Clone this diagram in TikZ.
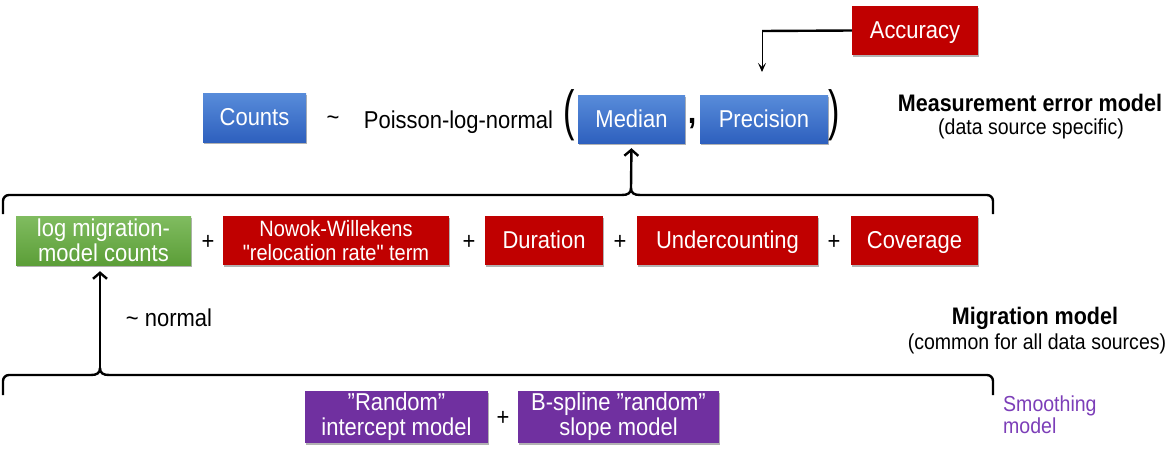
\documentclass[tikz,border=0pt]{standalone}
\usepackage{fontspec}
\setmainfont{Liberation Sans}[Ligatures=TeXOff, FakeStretch=0.9]
\usetikzlibrary{shadows,arrows.meta}
\definecolor{boxred}{RGB}{192,0,0}
\definecolor{boxpurple}{RGB}{112,48,160}
\definecolor{smpurple}{RGB}{124,62,184}
\definecolor{bluetop}{RGB}{88,140,218}
\definecolor{bluebot}{RGB}{46,96,190}
\definecolor{greentop}{RGB}{128,188,96}
\definecolor{greenbot}{RGB}{92,158,56}
\begin{document}
\begin{tikzpicture}[x=1pt,y=-1pt,
  box/.style={draw=none, text=white, align=center, inner sep=0pt,
    font=\fontsize{24.4}{25}\selectfont,
    drop shadow={shadow xshift=1pt,shadow yshift=-2pt,opacity=0.3,fill=black}},
  oneline/.style={text height=20pt, text depth=4pt},
  bluebox/.style={box, oneline, top color=bluetop, bottom color=bluebot},
  greenbox/.style={box, top color=greentop, bottom color=greenbot},
  redbox/.style={box, fill=boxred},
  purplebox/.style={box, fill=boxpurple},
  txt/.style={inner sep=0pt, font=\fontsize{24.4}{26}\selectfont},
  note/.style={inner sep=0pt, font=\fontsize{21.7}{24}\selectfont},
  headtxt/.style={inner sep=0pt, font=\fontsize{23.9}{26}\selectfont\bfseries},
  bracepath/.style={line width=2.4pt, line join=round},
  bigarrow/.style={line width=2.4pt, -{Straight Barb[length=6pt,width=14pt]}},
  thinarrow/.style={line width=1pt, -{Stealth[length=9pt,width=8pt,inset=4pt]}}
]
\useasboundingbox (0,0) rectangle (1170,450);

% top row
\node[redbox, oneline, minimum width=126pt, minimum height=49pt] (acc) at (915,30.5) {Accuracy};
\node[bluebox, minimum width=103pt, minimum height=49pt] (counts) at (254.5,117.5) {Counts};
\node[txt] (tilde) at (333,121) {\char126};
\node[txt] (pln) at (458.5,122) {Poisson-log-normal};
\node[inner sep=0pt, font=\fontsize{38}{38}\selectfont] (lpar) at (569,115) {\scalebox{1}[1.45]{(}};
\node[bluebox, minimum width=107pt, minimum height=48pt] (median) at (631.5,119) {Median};
\node[inner sep=0pt, font=\fontsize{34}{34}\selectfont\bfseries] (comma) at (692,124) {,};
\node[bluebox, minimum width=128pt, minimum height=48pt] (prec) at (764,119) {Precision};
\node[inner sep=0pt, font=\fontsize{38}{38}\selectfont] (rpar) at (834,115) {\scalebox{1}[1.45]{)}};

\node[headtxt] (meh) at (1030,103) {Measurement error model};
\node[note] (mes) at (1031,129) {(data source specific)};

% accuracy connector
\coordinate (accbend) at (762,31);
\coordinate (acctip) at (762,72);
\draw[line width=2.4pt] (acc.west) -- (accbend);
\draw[thinarrow] (accbend) -- (acctip);

% top brace
\coordinate (ttip) at (631,188);
\draw[bracepath, rounded corners=6pt] (3,214) -- (3,195) -- (622,195);
\draw[bracepath] (622,195) .. controls (628,195) and (631,193) .. (ttip)
  .. controls (631,193) and (634,195) .. (640,195);
\draw[bracepath, rounded corners=6pt] (640,195) -- (993,195) -- (993,214);
\draw[bigarrow, shorten >=5pt] (ttip) -- (median.south);

% second row
\node[greenbox, minimum width=175pt, minimum height=49pt] (green) at (103.5,240.5) {log migration-\\model counts};
\node[txt] (p1) at (208,242) {+};
\node[redbox, minimum width=226pt, minimum height=49pt, font=\fontsize{22.2}{23.5}\selectfont] (nowok) at (336,240.5) {Nowok-Willekens\\"relocation rate" term};
\node[txt] (p2) at (469,242) {+};
\node[redbox, oneline, minimum width=118pt, minimum height=49pt] (dur) at (544,240.5) {Duration};
\node[txt] (p3) at (620,242) {+};
\node[redbox, oneline, minimum width=181pt, minimum height=49pt] (under) at (727.5,240.5) {Undercounting};
\node[txt] (p4) at (834,242) {+};
\node[redbox, oneline, minimum width=127pt, minimum height=49pt] (cov) at (914.5,240.5) {Coverage};

\node[txt] (normal) at (169,318) {\char126\ normal};
\node[headtxt] (mmh) at (1035,318) {Migration model};
\node[note] (mms) at (1037,344) {(common for all data sources)};

% bottom brace
\coordinate (btip) at (100,368);
\draw[bracepath, rounded corners=6pt] (3,395) -- (3,375) -- (91,375);
\draw[bracepath] (91,375) .. controls (97,375) and (100,373) .. (btip)
  .. controls (100,373) and (103,375) .. (109,375);
\draw[bracepath, rounded corners=6pt] (109,375) -- (993,375) -- (993,395);
\draw[bigarrow, shorten >=6pt] (btip) -- (green.south -| btip);

% bottom row
\node[purplebox, minimum width=183pt, minimum height=52pt] (rint) at (396.5,417) {”Random”\\intercept model};
\node[txt] (p5) at (503,418) {+};
\node[purplebox, minimum width=201pt, minimum height=52pt] (bsp) at (618.5,417) {B-spline ”random”\\slope model};

\node[note, text=smpurple, align=left, anchor=north west, font=\fontsize{21.7}{22}\selectfont] (smooth) at (1003,396) {Smoothing\\model};
\end{tikzpicture}
\end{document}
